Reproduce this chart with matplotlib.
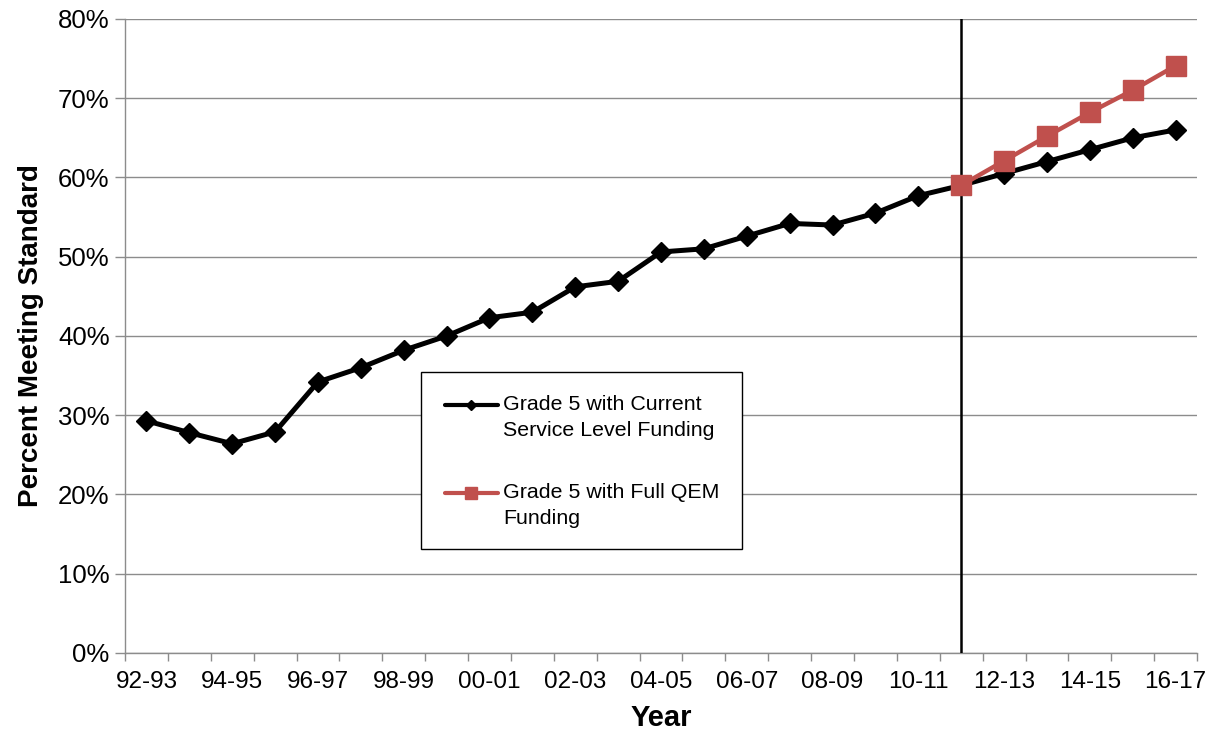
import matplotlib
matplotlib.use("Agg")
import matplotlib.pyplot as plt
from matplotlib.lines import Line2D
from matplotlib.patches import Rectangle
from matplotlib.ticker import FixedLocator, FuncFormatter

plt.rcParams['font.family'] = ['Liberation Sans', 'DejaVu Sans']

years = ["92-93", "93-94", "94-95", "95-96", "96-97", "97-98", "98-99", "99-00",
         "00-01", "01-02", "02-03", "03-04", "04-05", "05-06", "06-07", "07-08",
         "08-09", "09-10", "10-11", "11-12", "12-13", "13-14", "14-15", "15-16",
         "16-17"]
current_service = [29.3, 27.8, 26.4, 27.9, 34.2, 36.0, 38.2, 40.0, 42.3, 43.0,
                   46.2, 46.9, 50.6, 51.0, 52.6, 54.2, 54.0, 55.5, 57.7, 59.0,
                   60.5, 62.0, 63.5, 65.0, 66.0]
full_qem_years = ["11-12", "12-13", "13-14", "14-15", "15-16", "16-17"]
full_qem = [59.0, 62.1, 65.2, 68.2, 71.0, 74.1]
split_year = "11-12"
legend_labels = ["Grade 5 with Current\nService Level Funding",
                 "Grade 5 with Full QEM\nFunding"]

grid_gray = "#8c8c8c"
qem_red = "#C0504D"

fig = plt.figure(figsize=(12.16, 7.38), dpi=100)
ax = fig.add_axes([0.1028, 0.1152, 0.8816, 0.8591])

x_all = list(range(len(years)))
x_qem = [years.index(y) for y in full_qem_years]

ax.plot(x_all, current_service, color="black", lw=3.6, marker="D", ms=10.5,
        mfc="black", mec="black", zorder=4)
ax.plot(x_qem, full_qem, color=qem_red, lw=3.2, marker="s", ms=15,
        mfc=qem_red, mec=qem_red, zorder=5)

ax.axvline(years.index(split_year), color="black", lw=1.8, zorder=3)

ax.set_xlim(-0.5, len(years) - 0.5)
ax.set_ylim(0, 80)

ax.yaxis.set_major_locator(FixedLocator(range(0, 81, 10)))
ax.yaxis.set_major_formatter(FuncFormatter(lambda v, p: f"{v:.0f}%"))
ax.grid(axis="y", color=grid_gray, lw=1.0, zorder=0)
ax.set_axisbelow(True)

label_pos = x_all[::2]
ax.xaxis.set_major_locator(FixedLocator(label_pos))
ax.set_xticklabels([years[i] for i in label_pos])
ax.xaxis.set_minor_locator(FixedLocator([i - 0.5 for i in range(len(years) + 1)]))
ax.tick_params(axis="x", which="major", length=0, pad=13, labelsize=17.5)
ax.tick_params(axis="x", which="minor", length=5.5, width=1, color=grid_gray, direction="out")
ax.tick_params(axis="y", which="major", length=7, width=1, color=grid_gray,
               direction="out", labelsize=18.5, pad=4)

for side in ("top", "right"):
    ax.spines[side].set_visible(False)
for side in ("left", "bottom"):
    ax.spines[side].set_color(grid_gray)
    ax.spines[side].set_linewidth(1.0)

ax.set_ylabel("Percent Meeting Standard", fontsize=20, fontweight="bold", labelpad=10)
ax.set_xlabel("Year", fontsize=21, fontweight="bold", labelpad=8)

# legend box drawn in axes-fraction coordinates
tA = ax.transAxes
ax.add_patch(Rectangle((0.2761, 0.164), 0.2995, 0.2792, transform=tA,
                       facecolor="white", edgecolor="black", lw=1.0, zorder=6))
entries = [
    (0.3912, "black", "D", 5.5),
    (0.2524, qem_red, "s", 8),
]
for (yh, col, mk, size), text in zip(entries, legend_labels):
    ax.add_line(Line2D([0.2985, 0.3480], [yh, yh], transform=tA, zorder=7,
                       color=col, lw=3.0, solid_capstyle="round"))
    ax.add_line(Line2D([0.3232], [yh], transform=tA, zorder=8, ls="none",
                       marker=mk, ms=size, mfc=col, mec=col))
    first, second = text.split("\n")
    ax.text(0.3525, yh, first, transform=tA, fontsize=15.4, va="center",
            ha="left", zorder=8)
    ax.text(0.3525, yh - 0.041, second, transform=tA, fontsize=15.4, va="center",
            ha="left", zorder=8)

fig.savefig("out.png", dpi=100, facecolor="white")
